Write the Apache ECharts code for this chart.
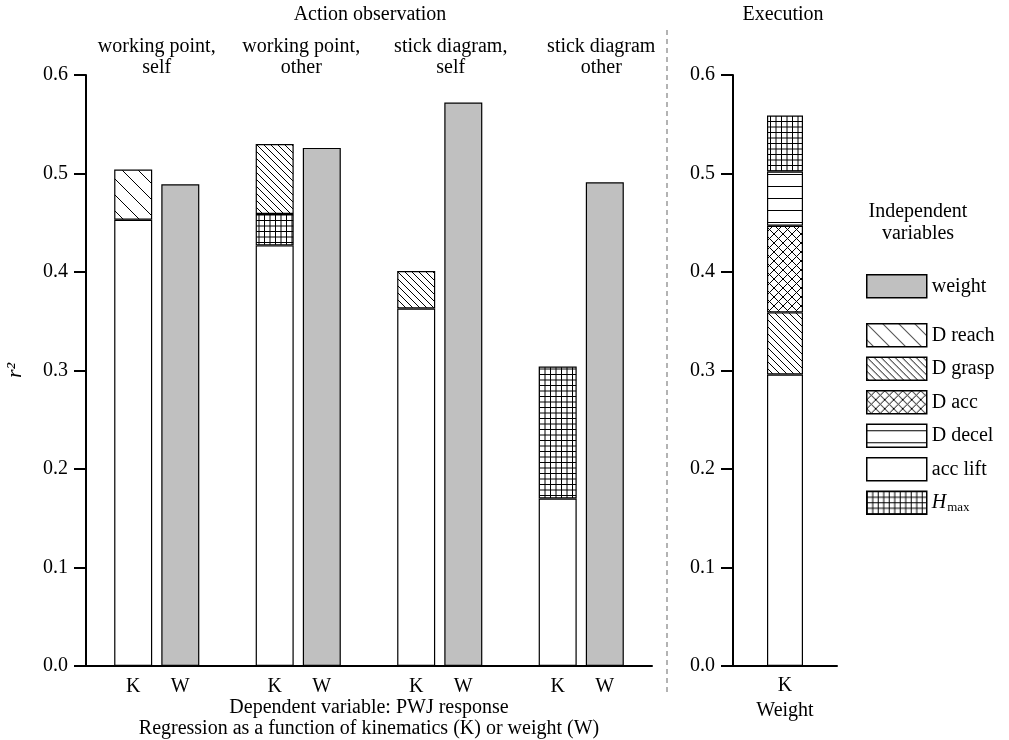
<!DOCTYPE html>
<html><head><meta charset="utf-8">
<script src="https://cdn.jsdelivr.net/npm/echarts@6/dist/echarts.min.js"></script>
<style>html,body{margin:0;padding:0;background:#fff}#c{width:1009px;height:740px}</style>
</head><body><div id="c"></div>
<script>
// ---- data ----
const groups = ['working point,\nself', 'working point,\nother', 'stick diagram,\nself', 'stick diagram\nother'];
const kAccLift = [0.453, 0.427, 0.363, 0.170];
const kHmax    = ['-', 0.032, '-', 0.134];
const kDReach  = [0.051, '-', '-', '-'];
const kDGrasp  = ['-', 0.071, 0.038, '-'];
const wWeight  = [0.489, 0.526, 0.572, 0.491];
const execCats = ['K'];
const eAccLift = [0.296];
const eDGrasp  = [0.063];
const eDAcc    = [0.088];
const eDDecel  = [0.055];
const eHmax    = [0.057];

// ---- styling ----
const FONT = 'Liberation Serif';
const FS = 20;
const BW = 1.2;
const groupLabelShift = [0, 6, 22, 40];

function pattern(kind) {
  const c = document.createElement('canvas');
  let w = 16, h = 16;
  if (kind === 'reach') { w = h = 16; }
  if (kind === 'grasp') { w = h = 7; }
  if (kind === 'acc') { w = h = 9; }
  if (kind === 'decel') { w = 8; h = 12; }
  if (kind === 'hmax') { w = h = 11; }
  c.width = w; c.height = h;
  const g = c.getContext('2d');
  g.fillStyle = '#fff'; g.fillRect(0, 0, w, h);
  g.strokeStyle = '#000'; g.lineWidth = 1;
  g.beginPath();
  if (kind === 'reach' || kind === 'grasp' || kind === 'acc') {
    for (let k = -1; k <= 1; k++) {
      g.moveTo(k * w, 0); g.lineTo(k * w + w, h);
      if (kind === 'acc') { g.moveTo(k * w + w, 0); g.lineTo(k * w, h); }
    }
  } else if (kind === 'decel') {
    g.moveTo(0, 6.5); g.lineTo(w, 6.5);
  } else if (kind === 'hmax') {
    g.moveTo(0.5, 0); g.lineTo(0.5, h);
    g.moveTo(6, 0); g.lineTo(6, h);
    g.moveTo(0, 0.5); g.lineTo(w, 0.5);
    g.moveTo(0, 6); g.lineTo(w, 6);
  }
  g.stroke();
  return { image: c, repeat: 'repeat' };
}
const fills = {
  'weight': '#c0c0c0',
  'acc lift': '#ffffff',
  'D reach': pattern('reach'),
  'D grasp': pattern('grasp'),
  'D acc': pattern('acc'),
  'D decel': pattern('decel'),
  'Hmax': pattern('hmax')
};
function item(name) {
  return { color: fills[name], borderColor: '#000', borderWidth: BW };
}
const txt = { fontFamily: FONT, fontSize: FS, color: '#000' };

function yAxis(grid, withName) {
  return {
    gridIndex: grid, type: 'value', min: 0, max: 0.6, interval: 0.1,
    axisLine: { show: true, lineStyle: { color: '#000', width: 2 } },
    axisTick: { show: true, length: 12, lineStyle: { color: '#000', width: 2 } },
    splitLine: { show: false },
    axisLabel: Object.assign({ margin: 18, formatter: v => v.toFixed(1) }, txt),
    name: withName ? 'r²' : '',
    nameLocation: 'middle', nameGap: 60, nameRotate: 90,
    nameTextStyle: Object.assign({}, txt, { fontStyle: 'italic', fontSize: 22 })
  };
}

const option = {
  backgroundColor: '#fff',
  animation: false,
  title: [
    { text: 'Action observation', left: 370, top: 5, textAlign: 'center', padding: 0, textStyle: Object.assign({ fontWeight: 'normal' }, txt) },
    { text: 'Execution', left: 783, top: 5, textAlign: 'center', padding: 0, textStyle: Object.assign({ fontWeight: 'normal' }, txt) },
    { text: 'Independent\nvariables', left: 918, top: 201, textAlign: 'center', padding: 0, textStyle: Object.assign({ fontWeight: 'normal', lineHeight: 22 }, txt) }
  ],
  grid: [
    { left: 86, top: 75, width: 566, height: 591, containLabel: false, outerBoundsMode: 'none' },
    { left: 733, top: 75, width: 104, height: 591, containLabel: false, outerBoundsMode: 'none' }
  ],
  xAxis: [
    {
      gridIndex: 0, type: 'category', data: groups,
      axisLine: { show: true, lineStyle: { color: '#000', width: 2 } },
      axisTick: { show: false }, axisLabel: { show: false },
      name: 'Dependent variable: PWJ response\nRegression as a function of kinematics (K) or weight (W)',
      nameLocation: 'middle', nameGap: 31,
      nameTextStyle: Object.assign({ lineHeight: 21 }, txt)
    },
    {
      gridIndex: 1, type: 'category', data: execCats,
      axisLine: { show: true, lineStyle: { color: '#000', width: 2 } },
      axisTick: { show: false },
      axisLabel: Object.assign({ margin: 10 }, txt),
      name: 'Weight', nameLocation: 'middle', nameGap: 31,
      nameTextStyle: txt
    },
    {
      gridIndex: 0, type: 'category', position: 'top',
      data: groups.map((g, i) => ({ value: g, textStyle: { padding: [0, 0, 0, groupLabelShift[i]] } })),
      axisLine: { show: false }, axisTick: { show: false },
      axisLabel: Object.assign({ interval: 0, margin: -3, lineHeight: 21 }, txt)
    }
  ],
  yAxis: [yAxis(0, true), yAxis(1, false)],
  legend: [
    {
      data: ['weight'], left: 866, top: 274, orient: 'vertical', icon: 'rect',
      itemWidth: 60, itemHeight: 23, itemGap: 9, padding: 0,
      textStyle: txt, selectedMode: false,
      itemStyle: { borderColor: '#000', borderWidth: 1.5 }
    },
    {
      data: ['D reach', 'D grasp', 'D acc', 'D decel', 'acc lift', 'Hmax'],
      left: 866, top: 323, orient: 'vertical', icon: 'rect',
      itemWidth: 60, itemHeight: 23, itemGap: 9, padding: 0,
      selectedMode: false,
      itemStyle: { borderColor: '#000', borderWidth: 1.5 },
      formatter: n => n === 'Hmax' ? '{i|H}{s|max}' : n,
      textStyle: Object.assign({
        rich: {
          i: { fontFamily: FONT, fontSize: FS, fontStyle: 'italic', color: '#000' },
          s: { fontFamily: FONT, fontSize: 13, color: '#000', padding: [9, 0, 0, 1] }
        }
      }, txt)
    }
  ],
  series: [
    { name: 'acc lift', type: 'bar', xAxisIndex: 0, yAxisIndex: 0, stack: 'K', data: kAccLift,
      barWidth: 38, barGap: '24%', itemStyle: item('acc lift'),
      label: Object.assign({ show: true, position: 'bottom', distance: 11, formatter: 'K' }, txt) },
    { name: 'Hmax', type: 'bar', xAxisIndex: 0, yAxisIndex: 0, stack: 'K', data: kHmax,
      barWidth: 38, barGap: '24%', itemStyle: item('Hmax') },
    { name: 'D reach', type: 'bar', xAxisIndex: 0, yAxisIndex: 0, stack: 'K', data: kDReach,
      barWidth: 38, barGap: '24%', itemStyle: item('D reach') },
    { name: 'D grasp', type: 'bar', xAxisIndex: 0, yAxisIndex: 0, stack: 'K', data: kDGrasp,
      barWidth: 38, barGap: '24%', itemStyle: item('D grasp') },
    { name: 'weight', type: 'bar', xAxisIndex: 0, yAxisIndex: 0, data: wWeight,
      barWidth: 38, barGap: '24%', itemStyle: item('weight'),
      label: Object.assign({ show: true, position: 'bottom', distance: 11, formatter: 'W' }, txt) },

    { name: 'acc lift', type: 'bar', xAxisIndex: 1, yAxisIndex: 1, stack: 'E', data: eAccLift, barWidth: 36, itemStyle: item('acc lift') },
    { name: 'D grasp', type: 'bar', xAxisIndex: 1, yAxisIndex: 1, stack: 'E', data: eDGrasp, barWidth: 36, itemStyle: item('D grasp') },
    { name: 'D acc', type: 'bar', xAxisIndex: 1, yAxisIndex: 1, stack: 'E', data: eDAcc, barWidth: 36, itemStyle: item('D acc') },
    { name: 'D decel', type: 'bar', xAxisIndex: 1, yAxisIndex: 1, stack: 'E', data: eDDecel, barWidth: 36, itemStyle: item('D decel') },
    { name: 'Hmax', type: 'bar', xAxisIndex: 1, yAxisIndex: 1, stack: 'E', data: eHmax, barWidth: 36, itemStyle: item('Hmax') }
  ],
  graphic: [
    { type: 'line', shape: { x1: 667, y1: 30, x2: 667, y2: 692 }, silent: true,
      style: { stroke: '#9a9a9a', lineWidth: 1.5, lineDash: [5, 4] } }
  ]
};
const chart = echarts.init(document.getElementById('c'), null, { renderer: 'canvas' });
chart.setOption(option);
</script></body></html>
